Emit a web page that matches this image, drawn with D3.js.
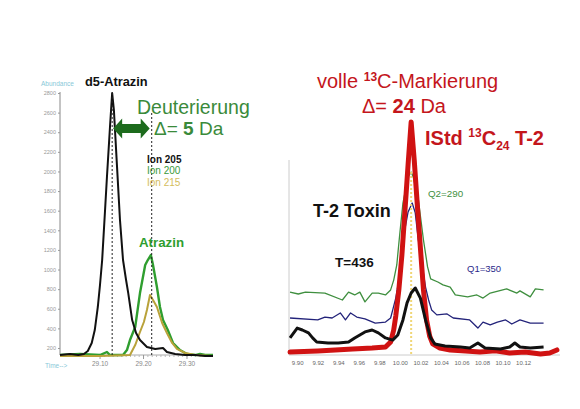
<!DOCTYPE html>
<html><head><meta charset="utf-8">
<script src="https://cdn.jsdelivr.net/npm/d3@7"></script>
<style>body{margin:0;background:#fff}svg{display:block}</style>
</head><body>
<svg id="c" width="580" height="409"></svg>
<script>
// ---------- Left panel data (Atrazin / d5-Atrazin) ----------
const leftYTicks = [200,400,600,800,1000,1200,1400,1600,1800,2000,2200,2400,2600,2800];
const leftXTicks = [29.10, 29.20, 29.30];
const ion205Time = [29.009,29.032,29.051,29.064,29.073,29.082,29.089,29.096,29.101,29.106,29.112,29.117,29.124,29.129,29.133,29.140,29.147,29.154,29.161,29.166,29.175,29.184,29.193,29.209,29.228,29.246,29.255,29.274,29.297,29.320,29.343,29.361];
const ion205Val  = [128,139,128,139,169,251,383,618,842,1097,1556,1943,2453,2800,2626,2065,1505,1097,893,760,485,353,281,210,189,200,159,139,128,128,118,118];
const ion200Time = [29.009,29.055,29.101,29.117,29.124,29.154,29.163,29.170,29.182,29.193,29.205,29.211,29.218,29.223,29.232,29.239,29.246,29.257,29.269,29.285,29.301,29.320,29.331,29.343,29.361];
const ion200Val  = [128,139,128,159,128,128,179,281,414,760,1046,1097,1148,1046,822,618,485,383,251,179,139,128,139,128,128];
const ion215Time = [29.009,29.101,29.170,29.182,29.193,29.202,29.209,29.216,29.223,29.232,29.244,29.255,29.267,29.278,29.297,29.320,29.361];
const ion215Val  = [118,118,128,230,363,465,587,740,689,618,455,353,251,190,149,128,118];
const leftMarkers = [29.129, 29.22];

// ---------- Right panel data (T-2 Toxin) ----------
const rightXTicks = [9.90,9.92,9.94,9.96,9.98,10.00,10.02,10.04,10.06,10.08,10.10,10.12];
const istdTime = [9.893,9.920,9.954,9.973,9.986,9.991,9.994,9.996,9.999,10.002,10.005,10.008,10.011,10.014,10.017,10.020,10.023,10.026,10.029,10.032,10.039,10.049,10.064,10.078,10.093,10.107,10.122,10.137,10.146,10.153];
const istdVal  = [3.3,3.8,4.6,5.0,5.4,7.5,12.5,18.3,29.2,43.8,62.5,81.3,99.2,83.3,64.6,46.7,29.2,16.7,10,6.7,5,4.2,3.8,3.3,3.8,2.9,3.3,2.5,2.9,4.2];
const q2Time = [9.893,9.901,9.908,9.927,9.944,9.950,9.956,9.961,9.966,9.973,9.979,9.986,9.991,9.994,9.997,10.000,10.003,10.008,10.011,10.013,10.018,10.023,10.027,10.030,10.037,10.042,10.049,10.054,10.066,10.075,10.081,10.088,10.104,10.114,10.117,10.127,10.132,10.140];
const q2Val  = [28.3,27.5,28.3,27.9,25,28.3,27.1,28.3,24.2,27.9,27.9,27.1,29.2,33.3,39.6,52.9,65.4,76.3,78.3,76.3,66.7,50,38.8,33.8,32.5,31.3,30.4,27.1,26.3,27.1,25.8,27.9,29.6,27.9,28.8,26.3,29.6,29.2];
const q1Time = [9.893,9.920,9.927,9.934,9.942,9.947,9.952,9.958,9.966,9.976,9.986,9.991,9.993,9.996,9.999,10.003,10.008,10.012,10.015,10.018,10.022,10.025,10.028,10.031,10.036,10.046,10.052,10.068,10.076,10.081,10.088,10.095,10.103,10.109,10.117,10.127,10.140];
const q1Val  = [17.5,16.7,17.9,17.5,19.6,16.7,19.6,17.9,17.1,15.4,15.8,17.5,20.8,25.8,33.3,50,61.7,65.4,61.3,50,38.8,30.4,25,20.8,18.8,19.2,17.5,16.7,13.3,15.8,14.6,15.8,16.7,15,16.7,15.4,15.4];
const tTime = [9.893,9.900,9.905,9.911,9.915,9.919,9.930,9.940,9.950,9.956,9.966,9.973,9.979,9.986,9.993,9.998,10.003,10.007,10.011,10.015,10.020,10.025,10.030,10.034,10.044,10.059,10.068,10.076,10.083,10.098,10.107,10.112,10.117,10.127,10.140];
const tVal  = [9.2,13.3,12.5,11.3,9.2,7.5,7.1,7.1,7.5,9.2,11.7,12.5,11.3,9.2,8.3,10.4,16.7,23.8,27.9,30,25.8,16.7,9.2,6.7,5.8,5.4,5,7.1,5,4.6,5.4,7.1,5.4,5,5.4];
const rightMarker = 10.011;

const svg = d3.select("#c");
const F = "'Liberation Sans', Arial, sans-serif";
const zip = (ts, vs) => ts.map((t,i)=>[t, vs[i]]);

// ---------- Left panel ----------
const xL = d3.scaleLinear().domain([29.009, 29.361]).range([60, 213]);
const yL = d3.scaleLinear().domain([0, 2800]).range([367.6, 93]);
const gL = svg.append("g");

// axes
const yAx = gL.append("g").attr("transform","translate(60,0)")
  .call(d3.axisLeft(yL).tickValues(leftYTicks).tickSize(2).tickFormat(d3.format("d")));
yAx.select(".domain").attr("d", `M0,${yL(2800)-1}V355`).attr("stroke","#888");
yAx.selectAll(".tick line").attr("stroke","#999");
yAx.selectAll(".tick text").attr("font-family",F).attr("font-size",5.5).attr("fill","#999").attr("x",-4);

const minor = d3.range(29.01, 29.36, 0.01);
const xAxMinor = gL.append("g").attr("transform","translate(0,355)")
  .call(d3.axisBottom(xL).tickValues(minor).tickSize(2).tickFormat(""));
xAxMinor.select(".domain").attr("d","M60,0H213").attr("stroke","#aaa");
xAxMinor.selectAll(".tick line").attr("stroke","#bbb");
const xAx = gL.append("g").attr("transform","translate(0,355)")
  .call(d3.axisBottom(xL).tickValues(leftXTicks).tickSize(4).tickFormat(d3.format(".2f")));
xAx.select(".domain").remove();
xAx.selectAll(".tick line").attr("stroke","#999");
xAx.selectAll(".tick text").attr("font-family",F).attr("font-size",6.5).attr("fill","#888").attr("dy","0.55em");

gL.append("text").attr("x",41).attr("y",86).attr("font-family",F).attr("font-size",6.5).attr("fill","#88c8d8").text("Abundance");
gL.append("text").attr("x",45).attr("y",368).attr("font-family",F).attr("font-size",6.5).attr("fill","#88c8d8").text("Time-->");

const lineL = d3.line().x(d=>xL(d[0])).y(d=>yL(d[1]));
gL.append("path").datum(zip(ion200Time, ion200Val)).attr("d",lineL).attr("fill","none").attr("stroke","#2f9e2f").attr("stroke-width",2.4).attr("stroke-linejoin","round");
gL.append("path").datum(zip(ion215Time, ion215Val)).attr("d",lineL).attr("fill","none").attr("stroke","#b9a23a").attr("stroke-width",2).attr("stroke-linejoin","round");
gL.append("path").datum(zip(ion205Time, ion205Val)).attr("d",lineL).attr("fill","none").attr("stroke","#111").attr("stroke-width",2).attr("stroke-linejoin","round");

// dotted markers
gL.selectAll(".mk").data(leftMarkers).enter().append("line")
  .attr("x1",d=>xL(d)).attr("x2",d=>xL(d))
  .attr("y1",(d,i)=> i===0 ? yL(2800) : 113).attr("y2",355)
  .attr("stroke","#222").attr("stroke-width",1).attr("stroke-dasharray","2,2");

// double arrow
const ax1 = xL(leftMarkers[0]) + 1, ax2 = xL(leftMarkers[1]) - 2, ay = 128.5;
gL.append("path").attr("d",
  `M${ax1},${ay} L${ax1+9},${ay-10} L${ax1+9},${ay-4.5} L${ax2-9},${ay-4.5} L${ax2-9},${ay-10} L${ax2},${ay} L${ax2-9},${ay+10} L${ax2-9},${ay+4.5} L${ax1+9},${ay+4.5} L${ax1+9},${ay+10} Z`)
  .attr("fill","#1d6b1d");

gL.append("text").attr("x",85).attr("y",86).attr("font-family",F).attr("font-size",12.8).attr("font-weight","bold").attr("fill","#111").text("d5-Atrazin");
gL.append("text").attr("x",137).attr("y",114).attr("font-family",F).attr("font-size",19.5).attr("fill","#3a8a3a").text("Deuterierung");
const dt = gL.append("text").attr("x",154).attr("y",135).attr("font-family",F).attr("font-size",19).attr("fill","#3a8a3a");
dt.append("tspan").text("\u0394= ");
dt.append("tspan").attr("font-weight","bold").text("5");
dt.append("tspan").text(" Da");
gL.append("text").attr("x",147).attr("y",163).attr("font-family",F).attr("font-size",10).attr("font-weight","bold").attr("fill","#111").text("Ion 205");
gL.append("text").attr("x",147).attr("y",174).attr("font-family",F).attr("font-size",10).attr("fill","#3a9a3a").text("Ion 200");
gL.append("text").attr("x",147).attr("y",186).attr("font-family",F).attr("font-size",10).attr("fill","#d4bd5c").text("Ion 215");
gL.append("text").attr("x",139).attr("y",247).attr("font-family",F).attr("font-size",13.3).attr("font-weight","bold").attr("fill","#2f9e2f").text("Atrazin");

// ---------- Right panel ----------
const xR = d3.scaleLinear().domain([9.892, 10.156]).range([289, 560]);
const yR = d3.scaleLinear().domain([0, 100]).range([360, 120]);
const gR = svg.append("g");
gR.append("line").attr("x1",289).attr("x2",289).attr("y1",160).attr("y2",355).attr("stroke","#ccc").attr("stroke-width",1);
const xAxR = gR.append("g").attr("transform","translate(0,355)")
  .call(d3.axisBottom(xR).tickValues(rightXTicks).tickSize(0).tickFormat(d3.format(".2f")));
xAxR.select(".domain").attr("d","M289,0H560").attr("stroke","#ccc");
xAxR.selectAll(".tick text").attr("font-family",F).attr("font-size",6).attr("fill","#666").attr("dy","1.2em");

const lineR = d3.line().x(d=>xR(d[0])).y(d=>yR(d[1]));
gR.append("path").datum(zip(q2Time,q2Val)).attr("d",lineR).attr("fill","none").attr("stroke","#3f8f3f").attr("stroke-width",1.3).attr("stroke-linejoin","round");
gR.append("path").datum(zip(q1Time,q1Val)).attr("d",lineR).attr("fill","none").attr("stroke","#23237a").attr("stroke-width",1.3).attr("stroke-linejoin","round");
gR.append("path").datum(zip(istdTime,istdVal)).attr("d",lineR).attr("fill","none").attr("stroke","#d01212").attr("stroke-width",5).attr("stroke-linejoin","round").attr("stroke-linecap","round");
gR.append("line").attr("x1",xR(rightMarker)).attr("x2",xR(rightMarker)).attr("y1",172).attr("y2",355)
  .attr("stroke","#f0d676").attr("stroke-width",2).attr("stroke-dasharray","2,2");
gR.append("path").datum(zip(tTime,tVal)).attr("d",lineR).attr("fill","none").attr("stroke","#111").attr("stroke-width",3).attr("stroke-linejoin","round");

const red = "#c4161c";
const t1 = gR.append("text").attr("x",317).attr("y",88).attr("font-family",F).attr("font-size",20).attr("fill",red);
t1.append("tspan").text("volle ");
t1.append("tspan").attr("font-size",12).attr("font-weight","bold").attr("dy",-7).text("13");
t1.append("tspan").attr("dy",7).text("C-Markierung");
const t2 = gR.append("text").attr("x",362).attr("y",113).attr("font-family",F).attr("font-size",20).attr("fill",red);
t2.append("tspan").text("\u0394= ");
t2.append("tspan").attr("font-weight","bold").text("24");
t2.append("tspan").text(" Da");
const t3 = gR.append("text").attr("x",425).attr("y",145).attr("font-family",F).attr("font-size",20).attr("font-weight","bold").attr("fill",red);
t3.append("tspan").text("IStd ");
t3.append("tspan").attr("font-size",12).attr("dy",-8).text("13");
t3.append("tspan").attr("dy",8).text("C");
t3.append("tspan").attr("font-size",12).attr("dy",5).text("24");
t3.append("tspan").attr("dy",-5).text(" T-2");
gR.append("text").attr("x",313).attr("y",217).attr("font-family",F).attr("font-size",18).attr("font-weight","bold").attr("fill","#111").text("T-2 Toxin");
gR.append("text").attr("x",335).attr("y",267).attr("font-family",F).attr("font-size",13.5).attr("font-weight","bold").attr("fill","#111").text("T=436");
gR.append("text").attr("x",428).attr("y",197).attr("font-family",F).attr("font-size",9.8).attr("fill","#3f8f3f").text("Q2=290");
gR.append("text").attr("x",467).attr("y",272).attr("font-family",F).attr("font-size",9.5).attr("fill","#2a2a8a").text("Q1=350");
</script>
</body></html>
